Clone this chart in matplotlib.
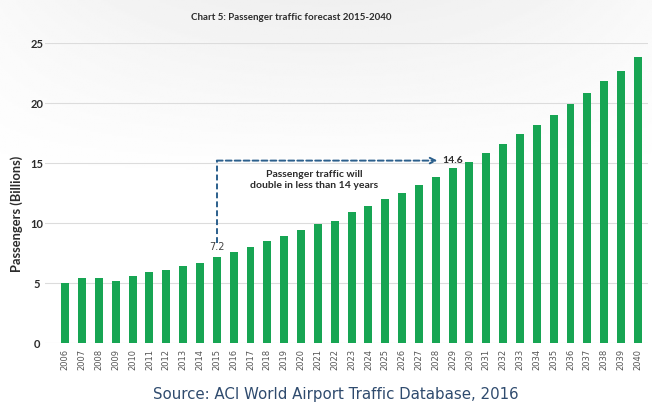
import matplotlib
matplotlib.use("Agg")
import matplotlib.pyplot as plt
import numpy as np

years = [str(y) for y in range(2006, 2041)]
passengers = [5.0, 5.4, 5.4, 5.2, 5.6, 5.9, 6.1, 6.4, 6.7, 7.2,
              7.6, 8.0, 8.5, 8.9, 9.4, 9.9, 10.2, 10.9, 11.4, 12.0,
              12.5, 13.2, 13.8, 14.6, 15.1, 15.8, 16.6, 17.4, 18.2, 19.0,
              19.9, 20.8, 21.8, 22.7, 23.8]
y_ticks = [0, 5, 10, 15, 20, 25]

start_year, end_year = "2015", "2029"

GREEN = "#17a553"
ARROW = "#2b5f8c"
TXT = "#2b2b2b"
SANS = ["Lato", "DejaVu Sans"]

fig = plt.figure(figsize=(6.52, 4.03), dpi=100)
fig.patch.set_facecolor("white")

# faint grey haze behind the upper part of the chart
bg = fig.add_axes([0, 0, 1, 1], zorder=-10)
yy = np.linspace(0, 1, 200)[:, None]
xx = np.linspace(-1, 1, 300)[None, :]
haze = np.clip((yy - 0.55) / 0.45, 0, 1) * (1 - 0.6 * xx ** 2)
bg.imshow(1 - 0.06 * haze, cmap="gray", vmin=0, vmax=1, aspect="auto",
          origin="lower", extent=[0, 1, 0, 1])
bg.axis("off")

ax = fig.add_axes([45 / 652, 60 / 403, 603 / 652, 300 / 403])
ax.patch.set_alpha(0)
x = np.arange(len(years))
ax.bar(x, passengers, width=0.47, color=GREEN, zorder=3)

ax.set_xlim(-1.2, len(years) - 0.4)
ax.set_ylim(0, 25)
ax.set_yticks(y_ticks)
ax.set_yticklabels([str(t) for t in y_ticks], fontsize=8, fontweight="bold",
                   color=TXT, family=SANS)
ax.set_xticks(x)
ax.set_xticklabels(years, rotation=90, fontsize=6, color="#555555",
                   family=["DejaVu Sans"])
ax.tick_params(axis="both", length=0)
ax.tick_params(axis="x", pad=4)
for lbl in ax.get_yticklabels():
    lbl.set_horizontalalignment("center")
ax.tick_params(axis="y", pad=6)
for s in ax.spines.values():
    s.set_visible(False)
ax.yaxis.grid(True, color="#dcdcdc", linewidth=0.8, zorder=0)
ax.set_axisbelow(True)

ax.set_ylabel("Passengers (Billions)", fontsize=9.3, fontweight="bold",
              color=TXT, family=SANS, labelpad=7)
ax.yaxis.set_label_coords(-0.036, 0.43)

# doubling annotation
i0 = years.index(start_year)
i1 = years.index(end_year)
v0 = passengers[i0]
v1 = passengers[i1]
top = 15.2
ax.plot([i0, i0], [v0 + 1.15, top], color=ARROW, lw=1.4,
        linestyle=(0, (3, 1.6)), zorder=4)
ax.annotate("", xy=(i1 - 0.9, top), xytext=(i0, top),
            arrowprops=dict(arrowstyle="->", color=ARROW, lw=1.4,
                            linestyle=(0, (3, 1.6)), shrinkA=0, shrinkB=0),
            zorder=4)
ax.text(i0, v0 + 0.35, f"{v0:.1f}", ha="center", va="bottom", fontsize=7,
        color="#444444", family=["DejaVu Sans"])
ax.text(i1 - 0.6, top, f"{v1:.1f}", ha="left", va="center", fontsize=7.5,
        fontweight="bold", color=TXT, family=SANS)
ax.text((i0 + i1) / 2 - 1.2, 13.6,
        "Passenger traffic will\ndouble in less than 14 years",
        ha="center", va="center", fontsize=7.5, fontweight="bold",
        color=TXT, family=SANS, linespacing=1.35)

fig.text(291 / 652, 1 - 17 / 403, "Chart 5: Passenger traffic forecast 2015-2040",
         ha="center", va="center", fontsize=7, fontweight="bold",
         color=TXT, family=SANS)
fig.text(336 / 652, 1 - 395 / 403, "Source: ACI World Airport Traffic Database, 2016",
         ha="center", va="center", fontsize=10.8, color="#2f4b6e",
         family=["DejaVu Sans"])

fig.savefig("out.png", dpi=100, facecolor=fig.get_facecolor())
